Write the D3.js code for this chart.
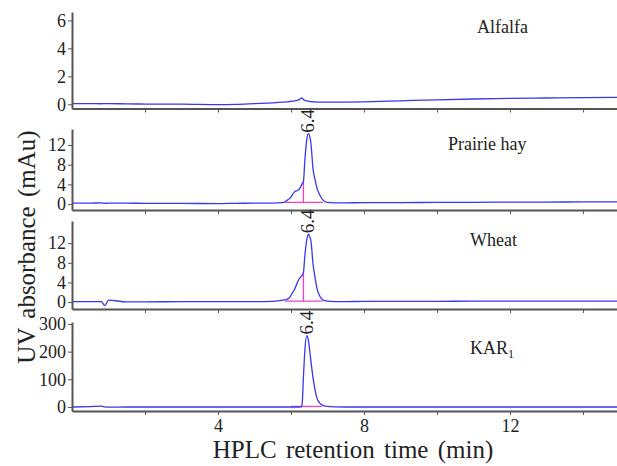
<!DOCTYPE html>
<html>
<head>
<meta charset="utf-8">
<script src="https://cdn.jsdelivr.net/npm/d3@7"></script>
<style>
  body { margin: 0; background: #fff; }
  svg { display: block; }
</style>
</head>
<body>
<svg id="chart" width="617" height="466"></svg>
<script>
// retention time grid (min), shared by all traces
var rt = [0, 0.5, 0.8, 0.9, 1.0, 1.5, 2, 3, 4, 4.5, 5, 5.5, 5.78, 5.9, 5.97, 6.03, 6.11, 6.19, 6.25, 6.29,
          6.31, 6.34, 6.38, 6.43, 6.47, 6.52, 6.55, 6.6, 6.66, 6.71, 6.79, 6.88, 6.99, 7.2, 7.5, 8, 9, 10,
          11, 12, 13, 14, 14.93];

var alfalfa = [0.05, 0.05, 0.04, 0.05, 0.05, 0.03, 0.02, 0.02, -0.02, 0.0, 0.05, 0.1, 0.15, 0.18, 0.2, 0.22,
               0.25, 0.3, 0.38, 0.46, 0.44, 0.34, 0.28, 0.24, 0.22, 0.2, 0.19, 0.18, 0.17, 0.16, 0.15, 0.15,
               0.15, 0.15, 0.16, 0.18, 0.25, 0.32, 0.38, 0.42, 0.45, 0.48, 0.5];

var prairieHay = [0.2, 0.2, 0.25, 0.15, 0.2, 0.2, 0.15, 0.15, 0.1, 0.15, 0.2, 0.2, 0.3, 0.8, 1.2, 1.8,
                  2.6, 2.8, 3.3, 3.9, 4.2, 4.6, 9, 13, 14.3, 13.5, 12, 7.3, 4.9, 3.3, 1.8, 0.8,
                  0.35, 0.25, 0.25, 0.3, 0.3, 0.35, 0.35, 0.4, 0.4, 0.45, 0.45];

var wheat = [0.1, 0.1, 0.1, -0.7, 0.4, 0.05, 0.05, 0.1, 0.1, 0.1, 0.1, 0.15, 0.4, 0.6, 1.0, 1.8,
             2.8, 4.3, 5.0, 5.3, 5.5, 6.0, 9.5, 12.6, 13.8, 13.2, 12.2, 7.9, 4.9, 2.8, 1.2, 0.4,
             0.2, 0.1, 0.1, 0.15, 0.15, 0.15, 0.2, 0.2, 0.2, 0.2, 0.2];

var kar1 = [0, 1.5, 3, 0.5, -0.5, 0, 0, 0, 0, 0, 0, 0, 0, 0, 0, 0,
            0, 0, 0, 1, 20, 108, 206, 258, 245, 195, 160, 108, 61, 32, 14, 6,
            2, 0.5, 0, 0, 0, 0, 0, 0, 0, 0, 0];

var sampleNames = ["Alfalfa", "Prairie hay", "Wheat", "KAR"];
var sampleSubs = ["", "", "", "1"];
var yTicks = [[0, 2, 4, 6], [0, 4, 8, 12], [0, 4, 8, 12], [0, 100, 200, 300]];
var yDomains = [[-0.3, 6.6], [-1.2, 15.25], [-1.4, 16.5], [-14.5, 307]];
var peakLabels = [null, "6.4", "6.4", "6.4"];
// integration marks: baseline start/end and drop line time
var markStart = [null, 5.84, 5.84, 6.0];
var markEnd = [null, 6.88, 6.86, 6.85];
var markDrop = [null, 6.34, 6.34, null];
var xTicks = [2, 4, 6, 8, 10, 12, 14];
var xTickLabels = [4, 8, 12];

var traces = [alfalfa, prairieHay, wheat, kar1];

var serif = "'Liberation Serif', 'Times New Roman', serif";
var svg = d3.select("#chart");
var tops = [12, 129, 221, 322],
    bottoms = [108.5, 210, 309, 411];

var x = d3.scaleLinear().domain([0, 14.93]).range([72, 617]);

function styleAxis(a) {
    a.attr("font-family", null).attr("font-size", null);
    a.select(".domain").attr("stroke", "#555").attr("stroke-width", 2);
    a.selectAll(".tick line").attr("stroke", "#555");
    a.selectAll("text")
        .style("font-family", serif)
        .style("font-size", "18px")
        .attr("fill", "#222");
}

traces.forEach(function(vals, i) {
    var y = d3.scaleLinear().domain(yDomains[i]).range([bottoms[i], tops[i]]);
    var pts = rt.map(function(t, k) { return [t, vals[k]]; });
    var g = svg.append("g");

    // integration baseline + drop line
    if (markStart[i] != null) {
        var base = vals[rt.indexOf(6.99)];
        g.append("line")
            .attr("x1", x(markStart[i])).attr("x2", x(markEnd[i]))
            .attr("y1", y(base)).attr("y2", y(base))
            .attr("stroke", "#f040c8").attr("stroke-width", 1.3);
        if (markDrop[i] != null) {
            var v = vals[rt.indexOf(markDrop[i])];
            g.append("line")
                .attr("x1", x(markDrop[i])).attr("x2", x(markDrop[i]))
                .attr("y1", y(base)).attr("y2", y(v))
                .attr("stroke", "#f040c8").attr("stroke-width", 1.3);
        }
    }

    var line = d3.line()
        .x(function(d) { return x(d[0]); })
        .y(function(d) { return y(d[1]); })
        .curve(d3.curveMonotoneX);

    g.append("path")
        .datum(pts)
        .attr("d", line)
        .attr("fill", "none")
        .attr("stroke", "#3838ee")
        .attr("stroke-width", 1.3);

    g.append("g")
        .attr("transform", "translate(72,0)")
        .call(d3.axisLeft(y).tickValues(yTicks[i]).tickSize(4).tickSizeOuter(0).tickPadding(2)
            .tickFormat(d3.format("d")))
        .call(styleAxis);

    var isLast = i == traces.length - 1;
    g.append("g")
        .attr("transform", "translate(0," + bottoms[i] + ")")
        .call(d3.axisBottom(x).tickValues(xTicks).tickSize(4).tickSizeOuter(0).tickPadding(4)
            .tickFormat(function(d) { return isLast && xTickLabels.indexOf(d) >= 0 ? d : ""; }))
        .call(styleAxis);

    var lab = g.append("text")
        .attr("x", i == 1 ? 448 : (i == 0 ? 477 : 470))
        .attr("y", [33, 150, 246, 354][i])
        .style("font-family", serif)
        .style("font-size", "18px")
        .attr("fill", "#222")
        .text(sampleNames[i]);
    if (sampleSubs[i]) {
        lab.append("tspan").style("font-size", "12px").attr("dy", 4).text(sampleSubs[i]);
    }

    if (peakLabels[i]) {
        var maxK = d3.maxIndex(vals);
        var px = x(rt[maxK]) + 6, py = y(vals[maxK]) - 1;
        g.append("text")
            .attr("transform", "translate(" + px + "," + py + ") rotate(-90)")
            .style("font-family", serif)
            .style("font-size", "19px")
            .attr("fill", "#222")
            .text(peakLabels[i]);
    }
});

svg.append("text")
    .attr("x", 353).attr("y", 458)
    .attr("text-anchor", "middle")
    .style("font-family", serif)
    .style("font-size", "25px")
    .style("word-spacing", "3px")
    .attr("fill", "#222")
    .text("HPLC retention time (min)");

svg.append("text")
    .attr("transform", "translate(35,247) rotate(-90)")
    .attr("text-anchor", "middle")
    .style("font-family", serif)
    .style("font-size", "25px")
    .style("word-spacing", "3px")
    .attr("fill", "#222")
    .text("UV absorbance (mAu)");
</script>
</body>
</html>
